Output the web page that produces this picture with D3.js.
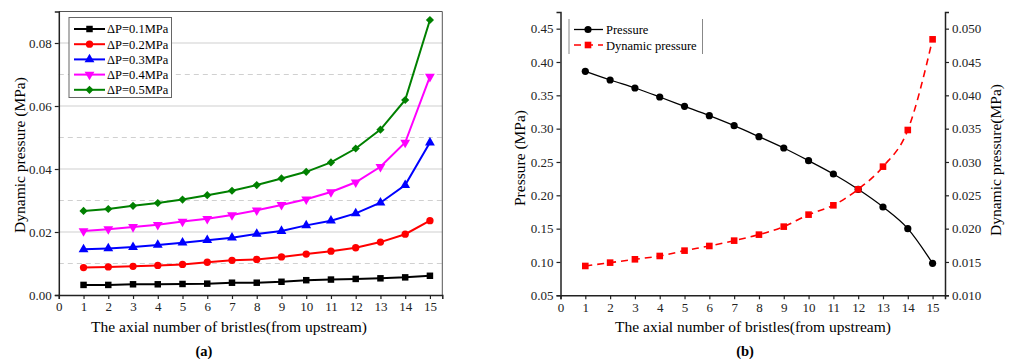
<!DOCTYPE html>
<html>
<head>
<meta charset="utf-8">
<script src="https://cdn.jsdelivr.net/npm/d3@7"></script>
<style>
  body { margin: 0; background: #fff; }
  svg, svg text { font-family: "Liberation Serif", "DejaVu Serif", serif; }
</style>
</head>
<body>
<div id="chart"></div>
<script>
// dados
let bristles = d3.range(1, 16);
let x_ticks = d3.range(0, 16);

let series_names = ['ΔP=0.1MPa', 'ΔP=0.2MPa', 'ΔP=0.3MPa', 'ΔP=0.4MPa', 'ΔP=0.5MPa'];
let series_colors = ['#000000', '#ff0000', '#0000ff', '#ff00ff', '#008000'];
let series_symbols = ['square', 'circle', 'triangle', 'triangleDown', 'diamond'];

let dp_01 = [0.0032, 0.0032, 0.0034, 0.0034, 0.0035, 0.0036, 0.0039, 0.0039, 0.0042, 0.0047, 0.0049, 0.0051, 0.0053, 0.0056, 0.0061];
let dp_02 = [0.0087, 0.0089, 0.0091, 0.0094, 0.0097, 0.0104, 0.0110, 0.0113, 0.0121, 0.0130, 0.0139, 0.0150, 0.0168, 0.0193, 0.0236];
let dp_03 = [0.0145, 0.0148, 0.0152, 0.0159, 0.0166, 0.0174, 0.0182, 0.0194, 0.0203, 0.0221, 0.0236, 0.0259, 0.0293, 0.0349, 0.0484];
let dp_04 = [0.0203, 0.0209, 0.0216, 0.0223, 0.0233, 0.0242, 0.0254, 0.0269, 0.0286, 0.0304, 0.0327, 0.0358, 0.0407, 0.0484, 0.0693];
let dp_05 = [0.0267, 0.0273, 0.0283, 0.0292, 0.0303, 0.0317, 0.0331, 0.0349, 0.0370, 0.0391, 0.0421, 0.0465, 0.0525, 0.0619, 0.0873];
let left_series = [dp_01, dp_02, dp_03, dp_04, dp_05];
let left_y_ticks = [0, 0.02, 0.04, 0.06, 0.08];
let left_y_minor = [0.01, 0.03, 0.05, 0.07];

let pressure = [0.386, 0.373, 0.361, 0.3475, 0.3335, 0.3195, 0.3045, 0.288, 0.271, 0.252, 0.232, 0.209, 0.1825, 0.150, 0.098];
let dyn_pressure = [0.0144, 0.0149, 0.0154, 0.0159, 0.0167, 0.0174, 0.0182, 0.0191, 0.0203, 0.0221, 0.0235, 0.0259, 0.0293, 0.0348, 0.0484];
let p_ticks = [0.05, 0.10, 0.15, 0.20, 0.25, 0.30, 0.35, 0.40, 0.45];
let dyn_ticks = [0.010, 0.015, 0.020, 0.025, 0.030, 0.035, 0.040, 0.045, 0.050];

let width = 1010;
let height = 359;
let serif = '"Liberation Serif", "DejaVu Serif", serif';

let svg = d3.select('#chart')
    .append('svg')
    .attr('width', width)
    .attr('height', height);

function symbol_path(name, size) {
    if (name === 'square') return d3.symbol(d3.symbolSquare, size)();
    if (name === 'circle') return d3.symbol(d3.symbolCircle, size)();
    if (name === 'triangle') return d3.symbol(d3.symbolTriangle, size)();
    if (name === 'triangleDown') return d3.symbol(d3.symbolTriangle, size)();
    return d3.symbol(d3.symbolSquare, size * 0.8)();
}
function symbol_rot(name) {
    if (name === 'triangleDown') return 180;
    if (name === 'diamond') return 45;
    return 0;
}

// ---------------- (a) ----------------
let ax_x = d3.scaleLinear().domain([0, 15.5]).range([58.8, 442.3]);
let ax_y = d3.scaleLinear().domain([0, 0.09]).range([295, 11.5]);

let ga = svg.append('g');

// grade
ga.selectAll('.grid-major')
    .data(left_y_ticks.slice(1))
    .enter()
    .append('line')
    .attr('x1', ax_x(0)).attr('x2', ax_x(15.5))
    .attr('y1', d => ax_y(d)).attr('y2', d => ax_y(d))
    .attr('stroke', '#cfcfcf').attr('stroke-width', 1.2);
ga.selectAll('.grid-minor')
    .data(left_y_minor)
    .enter()
    .append('line')
    .attr('x1', ax_x(0)).attr('x2', ax_x(15.5))
    .attr('y1', d => ax_y(d)).attr('y2', d => ax_y(d))
    .attr('stroke', '#d0d0d0').attr('stroke-width', 1)
    .attr('stroke-dasharray', '5,4');

// moldura
ga.append('line')
    .attr('x1', ax_x(0)).attr('x2', ax_x(15.5))
    .attr('y1', ax_y(0.09)).attr('y2', ax_y(0.09))
    .attr('stroke', '#555').attr('stroke-width', 1);
ga.append('line')
    .attr('x1', ax_x(15.5)).attr('x2', ax_x(15.5))
    .attr('y1', ax_y(0.09)).attr('y2', ax_y(0))
    .attr('stroke', '#555').attr('stroke-width', 1);

let a_x_axis = d3.axisBottom(ax_x).tickValues(x_ticks).tickFormat(d3.format('d')).tickSizeOuter(0).tickSize(4);
ga.append('g')
    .attr('transform', 'translate(0,' + ax_y(0) + ')')
    .call(a_x_axis);

let a_y_axis = d3.axisLeft(ax_y).tickValues(left_y_ticks).tickFormat(d3.format('.2f')).tickSizeOuter(0).tickSize(4);
ga.append('g')
    .attr('transform', 'translate(' + ax_x(0) + ',0)')
    .call(a_y_axis);

// linhas
let line_a = d3.line()
    .x((d, i) => ax_x(bristles[i]))
    .y(d => ax_y(d));

left_series.forEach((s, k) => {
    ga.append('path')
        .datum(s)
        .attr('d', line_a)
        .attr('fill', 'none')
        .attr('stroke', series_colors[k])
        .attr('stroke-width', 2);
    ga.append('g').selectAll('path')
        .data(s)
        .enter()
        .append('path')
        .attr('d', symbol_path(series_symbols[k], 42))
        .attr('transform', (d, i) => 'translate(' + ax_x(bristles[i]) + ',' + ax_y(d) + ') rotate(' + symbol_rot(series_symbols[k]) + ')')
        .attr('fill', series_colors[k]);
});

// legenda
let leg_a = ga.append('g');
leg_a.append('rect')
    .attr('x', 69).attr('y', 17.5).attr('width', 102.5).attr('height', 80)
    .attr('fill', '#fff').attr('stroke', '#666').attr('stroke-width', 1);
series_names.forEach((name, k) => {
    let yy = 29 + k * 15.2;
    leg_a.append('line')
        .attr('x1', 74).attr('x2', 105).attr('y1', yy).attr('y2', yy)
        .attr('stroke', series_colors[k]).attr('stroke-width', 2);
    leg_a.append('path')
        .attr('d', symbol_path(series_symbols[k], 42))
        .attr('transform', 'translate(89.5,' + yy + ') rotate(' + symbol_rot(series_symbols[k]) + ')')
        .attr('fill', series_colors[k]);
    leg_a.append('text')
        .attr('x', 107).attr('y', yy + 4.3)
        .attr('font-size', 12.5)
        .text(name);
});

ga.append('text')
    .attr('transform', 'translate(25,155) rotate(-90)')
    .attr('text-anchor', 'middle')
    .attr('font-size', 15.5)
    .text('Dynamic pressure (MPa)');
ga.append('text')
    .attr('x', 229).attr('y', 332)
    .attr('text-anchor', 'middle')
    .attr('font-size', 15.5)
    .text('The axial number of bristles(from upstream)');
ga.append('text')
    .attr('x', 204).attr('y', 356)
    .attr('text-anchor', 'middle')
    .attr('font-size', 14.5)
    .attr('font-weight', 'bold')
    .text('(a)');

// ---------------- (b) ----------------
let bx_x = d3.scaleLinear().domain([0, 15.5]).range([560.5, 945]);
let by_p = d3.scaleLinear().domain([0.05, 0.475]).range([295.3, 12]);
let by_d = d3.scaleLinear().domain([0.010, 0.0525]).range([295.3, 12]);

let gb = svg.append('g');

let b_x_axis = d3.axisBottom(bx_x).tickValues(x_ticks).tickFormat(d3.format('d')).tickSizeOuter(0).tickSize(4);
gb.append('g')
    .attr('transform', 'translate(0,295.3)')
    .call(b_x_axis);
let b_yl_axis = d3.axisLeft(by_p).tickValues(p_ticks).tickFormat(d3.format('.2f')).tickSizeOuter(0).tickSize(4);
gb.append('g')
    .attr('transform', 'translate(' + bx_x(0) + ',0)')
    .call(b_yl_axis);
let b_yr_axis = d3.axisRight(by_d).tickValues(dyn_ticks).tickFormat(d3.format('.3f')).tickSizeOuter(0).tickSize(4);
gb.append('g')
    .attr('transform', 'translate(' + bx_x(15.5) + ',0)')
    .call(b_yr_axis);

let line_p = d3.line()
    .x((d, i) => bx_x(bristles[i]))
    .y(d => by_p(d))
    .curve(d3.curveMonotoneX);
let line_d = d3.line()
    .x((d, i) => bx_x(bristles[i]))
    .y(d => by_d(d))
    .curve(d3.curveMonotoneX);

gb.append('path')
    .datum(pressure)
    .attr('d', line_p)
    .attr('fill', 'none')
    .attr('stroke', '#000')
    .attr('stroke-width', 1.3);
gb.append('g').selectAll('circle')
    .data(pressure)
    .enter()
    .append('circle')
    .attr('cx', (d, i) => bx_x(bristles[i]))
    .attr('cy', d => by_p(d))
    .attr('r', 3.6)
    .attr('fill', '#000');

gb.append('path')
    .datum(dyn_pressure)
    .attr('d', line_d)
    .attr('fill', 'none')
    .attr('stroke', '#ff0000')
    .attr('stroke-width', 1.6)
    .attr('stroke-dasharray', '7,5');
gb.append('g').selectAll('rect')
    .data(dyn_pressure)
    .enter()
    .append('rect')
    .attr('x', (d, i) => bx_x(bristles[i]) - 3.3)
    .attr('y', d => by_d(d) - 3.3)
    .attr('width', 6.6)
    .attr('height', 6.6)
    .attr('fill', '#ff0000');

// legenda (b)
let leg_b = gb.append('g');
leg_b.append('line').attr('x1', 569).attr('x2', 569).attr('y1', 19).attr('y2', 54).attr('stroke', '#888');
leg_b.append('line').attr('x1', 702.5).attr('x2', 702.5).attr('y1', 19).attr('y2', 54).attr('stroke', '#888');
leg_b.append('line').attr('x1', 574).attr('x2', 603).attr('y1', 29.5).attr('y2', 29.5)
    .attr('stroke', '#000').attr('stroke-width', 1.3);
leg_b.append('circle').attr('cx', 588).attr('cy', 29.5).attr('r', 3.6).attr('fill', '#000');
leg_b.append('text').attr('x', 606).attr('y', 34).attr('font-size', 12.5).text('Pressure');
leg_b.append('line').attr('x1', 574).attr('x2', 603).attr('y1', 45).attr('y2', 45)
    .attr('stroke', '#ff0000').attr('stroke-width', 1.6).attr('stroke-dasharray', '7,5');
leg_b.append('rect').attr('x', 584.7).attr('y', 41.7).attr('width', 6.6).attr('height', 6.6).attr('fill', '#ff0000');
leg_b.append('text').attr('x', 606).attr('y', 49.5).attr('font-size', 12.5).text('Dynamic pressure');

gb.append('text')
    .attr('transform', 'translate(525,158) rotate(-90)')
    .attr('text-anchor', 'middle')
    .attr('font-size', 15.5)
    .text('Pressure (MPa)');
gb.append('text')
    .attr('transform', 'translate(1001,160) rotate(-90)')
    .attr('text-anchor', 'middle')
    .attr('font-size', 15.5)
    .text('Dynamic pressure(MPa)');
gb.append('text')
    .attr('x', 753).attr('y', 332)
    .attr('text-anchor', 'middle')
    .attr('font-size', 15.5)
    .text('The axial number of bristles(from upstream)');
gb.append('text')
    .attr('x', 745).attr('y', 356)
    .attr('text-anchor', 'middle')
    .attr('font-size', 14.5)
    .attr('font-weight', 'bold')
    .text('(b)');

// estilo dos eixos
svg.selectAll('g').attr('font-family', serif);
svg.selectAll('.domain').attr('stroke', '#222').attr('stroke-width', 1.5);
svg.selectAll('.tick line').attr('stroke', '#222').attr('stroke-width', 1.2);
svg.selectAll('.tick text')
    .attr('font-size', 13)
    .attr('fill', '#222');
svg.selectAll('text').attr('font-family', serif).style('font-family', serif);
</script>
</body>
</html>
